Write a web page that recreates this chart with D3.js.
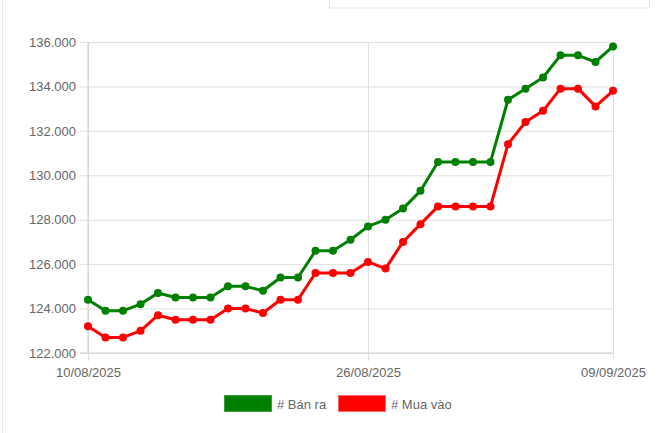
<!DOCTYPE html>
<html><head><meta charset="utf-8">
<script src="https://cdn.jsdelivr.net/npm/d3@7"></script>
<style>
html,body{margin:0;padding:0;background:#fff;}
svg{display:block;font-family:"Liberation Sans",Arial,Helvetica,sans-serif;}
</style></head>
<body><svg id="c" width="671" height="433"></svg>
<script>
const dates = ["10/08/2025","11/08/2025","12/08/2025","13/08/2025","14/08/2025","15/08/2025","16/08/2025","17/08/2025","18/08/2025","19/08/2025","20/08/2025","21/08/2025","22/08/2025","23/08/2025","24/08/2025","25/08/2025","26/08/2025","27/08/2025","28/08/2025","29/08/2025","30/08/2025","31/08/2025","01/09/2025","02/09/2025","03/09/2025","04/09/2025","05/09/2025","06/09/2025","07/09/2025","08/09/2025","09/09/2025"];
const banRa = [124400,123900,123900,124200,124700,124500,124500,124500,125000,125000,124800,125400,125400,126600,126600,127100,127700,128000,128500,129300,130600,130600,130600,130600,133400,133900,134400,135400,135400,135100,135800];
const muaVao = [123200,122700,122700,123000,123700,123500,123500,123500,124000,124000,123800,124400,124400,125600,125600,125600,126100,125800,127000,127800,128600,128600,128600,128600,131400,132400,132900,133900,133900,133100,133800];
const xTickLabels = ["10/08/2025","26/08/2025","09/09/2025"];
const yTicks = [122000,124000,126000,128000,130000,132000,134000,136000];
const seriesNames = ["# Bán ra","# Mua vào"];
const colors = ["#008000","#ff0000"];

const svg = d3.select("#c");
const L=88, R=613, T=42, B=353;
const x = d3.scalePoint().domain(dates).range([L,R]);
const y = d3.scaleLinear().domain([122000,136000]).range([B,T]);
const fmt = v => d3.format(",")(v).replace(/,/g,".");
const FS = 13;

// outer decorations
svg.append("line").attr("x1",2.5).attr("x2",2.5).attr("y1",0).attr("y2",433).attr("stroke","#e6e6e6");
svg.append("rect").attr("x",329.5).attr("y",-2).attr("width",320).attr("height",10).attr("fill","none").attr("stroke","#e3e3e3");

// y grid + axis
const ya = svg.append("g").attr("transform",`translate(${L},0)`)
  .call(d3.axisLeft(y).tickValues(yTicks).tickFormat(fmt).tickSize(8).tickSizeOuter(0));
ya.select(".domain").remove();
ya.selectAll(".tick line").attr("stroke","#e0e0e0").attr("x2",R-L).attr("x1",-8);
ya.selectAll(".tick text").attr("fill","#666").attr("font-size",FS).attr("x",-12)
  .attr("font-family","Liberation Sans, Arial, sans-serif");

// x grid + axis
const xa = svg.append("g").attr("transform",`translate(0,${B})`)
  .call(d3.axisBottom(x).tickValues(xTickLabels).tickSize(8).tickSizeOuter(0).tickPadding(7));
xa.select(".domain").remove();
xa.selectAll(".tick line").attr("stroke","#e0e0e0").attr("y1",-(B-T)).attr("y2",8);
xa.selectAll(".tick text").attr("fill","#666").attr("font-size",FS)
  .attr("font-family","Liberation Sans, Arial, sans-serif");

// axis lines
svg.append("line").attr("x1",L).attr("x2",L).attr("y1",T).attr("y2",B).attr("stroke","#d0d0d0");
svg.append("line").attr("x1",L-8).attr("x2",R).attr("y1",B).attr("y2",B).attr("stroke","#d0d0d0");

const series = [banRa, muaVao];
const line = d3.line().x((d,i)=>x(dates[i])).y(d=>y(d));
series.forEach((s,k)=>{
  svg.append("path").datum(s).attr("d",line).attr("fill","none").attr("stroke",colors[k]).attr("stroke-width",3).attr("stroke-linejoin","round");
  svg.append("g").selectAll("circle").data(s).join("circle")
    .attr("cx",(d,i)=>x(dates[i])).attr("cy",d=>y(d)).attr("r",4).attr("fill",colors[k]);
});

// legend
const lg = svg.append("g");
const lx = [224, 338];
seriesNames.forEach((n,k)=>{
  lg.append("rect").attr("x",lx[k]+0.5).attr("y",395.5).attr("width",47).attr("height",16)
    .attr("fill",colors[k]).attr("stroke",k===0?"#3a9a3a":"#ff6666").attr("stroke-width",1);
  lg.append("text").attr("x",lx[k]+53).attr("y",404).attr("dy","0.35em").attr("font-size",FS).attr("fill","#666").text(n);
});
</script></body></html>
